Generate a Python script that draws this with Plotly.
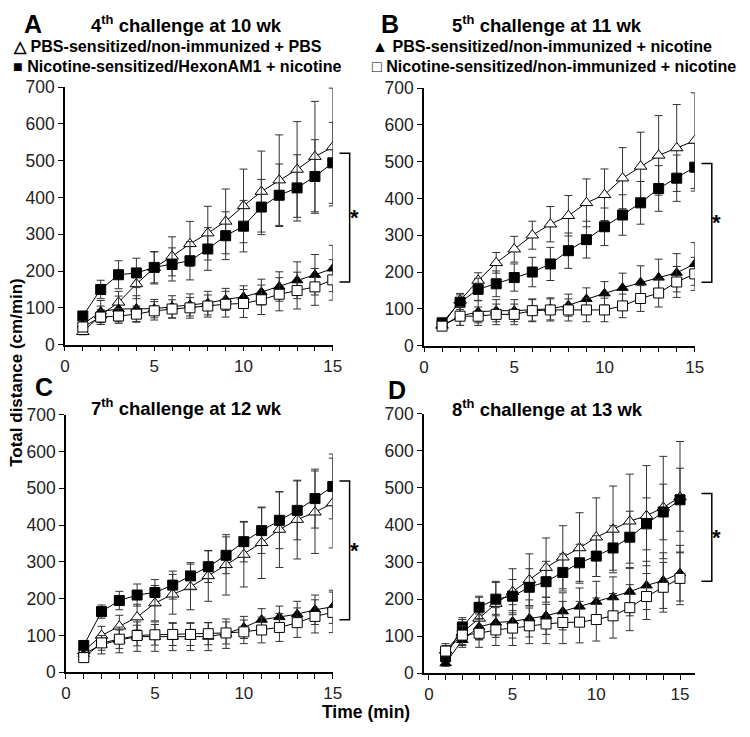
import plotly.graph_objects as go

FONT = "Arial, Liberation Sans, sans-serif"

minutes = list(range(1, 16))

# group names (legend text)
groups = [
    "PBS-sensitized/non-immunized + PBS",
    "Nicotine-sensitized/HexonAM1 + nicotine",
    "PBS-sensitized/non-immunized + nicotine",
    "Nicotine-sensitized/non-immunized + nicotine",
]

# panel A - 4th challenge at 10 wk
a_pbs_pbs = [35, 80, 115, 165, 209, 240, 274, 303, 335, 377, 416, 447, 476, 511, 537]
a_hex_nic = [78, 150, 190, 195, 210, 218, 228, 260, 296, 322, 374, 406, 426, 457, 494]
a_pbs_nic = [55, 90, 97, 98, 98, 103, 108, 113, 123, 130, 143, 158, 175, 190, 207]
a_nic_nic = [48, 75, 78, 83, 92, 97, 100, 105, 110, 112, 122, 137, 147, 157, 176]
a_pbs_pbs_err = [8, 25, 30, 40, 44, 53, 61, 73, 88, 100, 110, 123, 130, 150, 160]
a_hex_nic_err = [12, 25, 38, 40, 42, 45, 52, 58, 65, 70, 75, 85, 90, 100, 110]
a_pbs_nic_err = [10, 30, 35, 35, 25, 30, 30, 32, 30, 30, 35, 40, 50, 55, 63]
a_nic_nic_err = [10, 20, 20, 22, 25, 25, 28, 30, 35, 38, 40, 45, 50, 50, 55]

# panel B - 5th challenge at 11 wk
b_pbs_pbs = [55, 123, 177, 225, 262, 300, 330, 353, 388, 410, 455, 487, 517, 537, 557]
b_hex_nic = [62, 118, 153, 168, 185, 200, 222, 258, 288, 323, 355, 388, 427, 455, 485]
b_pbs_nic = [55, 80, 92, 95, 95, 97, 100, 110, 127, 142, 157, 172, 185, 198, 222]
b_nic_nic = [53, 80, 80, 85, 85, 95, 97, 97, 97, 97, 108, 128, 143, 173, 195]
b_pbs_pbs_err = [10, 19, 21, 28, 35, 38, 48, 55, 65, 70, 83, 93, 108, 118, 130]
b_hex_nic_err = [10, 20, 30, 35, 37, 40, 45, 48, 50, 51, 55, 58, 62, 63, 65]
b_pbs_nic_err = [10, 25, 30, 30, 30, 30, 30, 30, 30, 32, 40, 45, 50, 52, 58]
b_nic_nic_err = [10, 25, 25, 28, 28, 30, 30, 30, 32, 32, 32, 35, 38, 42, 45]

# panel C - 7th challenge at 12 wk
c_pbs_pbs = [58, 100, 125, 150, 188, 212, 232, 262, 292, 320, 352, 388, 415, 435, 460]
c_hex_nic = [73, 165, 195, 210, 217, 237, 262, 287, 318, 355, 385, 413, 440, 472, 505]
c_pbs_nic = [50, 75, 88, 97, 97, 97, 97, 97, 105, 122, 143, 150, 158, 170, 178]
c_nic_nic = [40, 80, 90, 100, 102, 103, 103, 105, 107, 110, 115, 122, 135, 152, 163]
c_pbs_pbs_err = [10, 25, 30, 35, 48, 54, 62, 69, 82, 88, 97, 103, 107, 112, 122]
c_hex_nic_err = [10, 18, 25, 30, 35, 38, 36, 43, 50, 55, 62, 77, 80, 80, 88]
c_pbs_nic_err = [10, 25, 35, 40, 40, 38, 38, 38, 40, 30, 30, 30, 35, 40, 45]
c_nic_nic_err = [8, 20, 25, 28, 28, 30, 30, 30, 30, 32, 35, 38, 40, 45, 55]

# panel D - 8th challenge at 13 wk
d_pbs_pbs = [62, 110, 148, 188, 220, 252, 285, 313, 338, 367, 388, 410, 425, 447, 475]
d_hex_nic = [45, 125, 178, 200, 208, 232, 247, 272, 298, 316, 338, 367, 403, 435, 468]
d_pbs_nic = [27, 90, 125, 137, 140, 148, 155, 167, 180, 193, 205, 220, 237, 250, 270]
d_nic_nic = [60, 103, 108, 117, 122, 128, 133, 137, 138, 145, 155, 177, 207, 232, 256]
d_pbs_pbs_err = [18, 35, 57, 60, 62, 70, 80, 85, 95, 106, 117, 127, 135, 138, 150]
d_hex_nic_err = [15, 25, 30, 45, 45, 50, 55, 50, 50, 55, 60, 70, 70, 75, 85]
d_pbs_nic_err = [8, 20, 35, 40, 45, 50, 50, 50, 50, 55, 55, 65, 65, 75, 75]
d_nic_nic_err = [15, 25, 38, 42, 47, 48, 53, 57, 56, 58, 60, 62, 62, 67, 71]

panels = [
    ("A", "4<sup>th</sup> challenge at 10 wk",
     [a_pbs_pbs, a_hex_nic, a_pbs_nic, a_nic_nic],
     [a_pbs_pbs_err, a_hex_nic_err, a_pbs_nic_err, a_nic_nic_err], (170, 520)),
    ("B", "5<sup>th</sup> challenge at 11 wk",
     [b_pbs_pbs, b_hex_nic, b_pbs_nic, b_nic_nic],
     [b_pbs_pbs_err, b_hex_nic_err, b_pbs_nic_err, b_nic_nic_err], (172, 495)),
    ("C", "7<sup>th</sup> challenge at 12 wk",
     [c_pbs_pbs, c_hex_nic, c_pbs_nic, c_nic_nic],
     [c_pbs_pbs_err, c_hex_nic_err, c_pbs_nic_err, c_nic_nic_err], (143, 520)),
    ("D", "8<sup>th</sup> challenge at 13 wk",
     [d_pbs_pbs, d_hex_nic, d_pbs_nic, d_nic_nic],
     [d_pbs_pbs_err, d_hex_nic_err, d_pbs_nic_err, d_nic_nic_err], (248, 485)),
]

# the page body keeps its default 8px margin, so the figure is made 16px smaller
# and page pixel positions are converted with that offset
M = 8
W, H = 750 - 2 * M, 737 - 2 * M


def px(x):
    return (x - M) / W


def py(y):
    return 1 - (y - M) / H


# plot boxes in page pixels: left, right, top, bottom
boxes = [(61, 334, 79, 344), (427, 703, 80, 345), (62, 334, 416, 681), (427, 703, 415, 682)]
xranges = [[0, 15], [0, 15], [0, 15], [-0.29, 15.88]]
# letter / title positions: letter x, letter y, title x, title y
heads = [(28, 14, 185, 14), (392, 14, 552, 14), (40, 388, 185, 408), (399, 391, 553, 409)]

styles = [
    dict(symbol="triangle-up", color="white", size=11),
    dict(symbol="square", color="black", size=10),
    dict(symbol="triangle-up", color="black", size=10),
    dict(symbol="square", color="white", size=10),
]

fig = go.Figure()

for i, (letter, title, series, errs, brk) in enumerate(panels):
    n = "" if i == 0 else str(i + 1)
    xa, ya = "x" + n, "y" + n
    l, r, t, b = boxes[i]
    fig.layout["xaxis" + n] = dict(
        domain=[px(l), px(r)], range=xranges[i], anchor=ya,
        tickvals=[0, 5, 10, 15],
        ticks="outside", ticklen=5, tickwidth=1, tickcolor="black",
        minor=dict(tick0=0, dtick=1, ticks="outside", ticklen=5, tickwidth=1, tickcolor="black"),
        showline=True, linecolor="black", linewidth=1.5, showgrid=False, zeroline=False,
        tickfont=dict(family=FONT, size=17, color="#222"),
    )
    fig.layout["yaxis" + n] = dict(
        domain=[py(b), py(t)], range=[0, 700], anchor=xa,
        tickvals=list(range(0, 701, 100)),
        ticks="outside", ticklen=5, tickwidth=1, tickcolor="black",
        showline=True, linecolor="black", linewidth=1.5, showgrid=False, zeroline=False,
        tickfont=dict(family=FONT, size=17.5, color="#222"),
    )
    for j in range(4):
        st = styles[j]
        fig.add_trace(go.Scatter(
            x=minutes, y=series[j], xaxis=xa, yaxis=ya, mode="lines+markers",
            name=groups[j], showlegend=False,
            line=dict(color="black", width=1),
            marker=dict(symbol=st["symbol"], color=st["color"], size=st["size"],
                        line=dict(color="black", width=1)),
            error_y=dict(type="data", array=errs[j], visible=True,
                         color="#333", thickness=1, width=4),
        ))

    # panel letter and title
    lx, ly, tx, ty = heads[i]
    fig.add_annotation(x=px(lx), y=py(ly), xref="paper", yref="paper",
                       text="<b>%s</b>" % letter, showarrow=False, xanchor="center", yanchor="middle",
                       font=dict(family=FONT, size=25, color="black"))
    fig.add_annotation(x=px(tx), y=py(ty), xref="paper", yref="paper",
                       text="<b>%s</b>" % title, showarrow=False, xanchor="center", yanchor="middle",
                       font=dict(family=FONT, size=18.5, color="black"))

    # significance bracket
    xd = xa + " domain"
    lo, hi = brk
    fig.add_shape(type="path", xref=xd, yref=ya,
                  path="M 1.025 %d L 1.063 %d L 1.063 %d L 1.025 %d" % (hi, hi, lo, lo),
                  line=dict(color="black", width=1.5))
    fig.add_annotation(x=1.105, y=(hi + lo) / 2, xref=xd, yref=ya, text="<b>*</b>",
                       showarrow=False, font=dict(family=FONT, size=22, color="black"))

# legends at the top
legend_items = [
    (6, 37, "\u25b3 " + groups[0]),
    (6, 57, "\u25a0 " + groups[1]),
    (372, 37, "\u25b2 " + groups[2]),
    (372, 57, "\u25a1 " + groups[3]),
]
for lx, ly, txt in legend_items:
    fig.add_annotation(x=px(lx), y=py(ly), xref="paper", yref="paper",
                       text="<b>%s</b>" % txt, showarrow=False, xanchor="left", yanchor="middle",
                       font=dict(family=FONT, size=16.1, color="black"))

# shared axis titles
fig.add_annotation(x=px(12), y=py(372), xref="paper", yref="paper", textangle=-90,
                   text="<b>Total distance (cm/min)</b>", showarrow=False,
                   xanchor="center", yanchor="middle", font=dict(family=FONT, size=17, color="black"))
fig.add_annotation(x=px(368), y=py(722), xref="paper", yref="paper",
                   text="<b>Time (min)</b>", showarrow=False,
                   xanchor="center", yanchor="middle", font=dict(family=FONT, size=17.5, color="black"))

fig.update_layout(
    width=W, height=H, margin=dict(l=0, r=0, t=0, b=0),
    paper_bgcolor="white", plot_bgcolor="white", showlegend=False,
)

fig.write_html("out.html", config={"displayModeBar": False})
